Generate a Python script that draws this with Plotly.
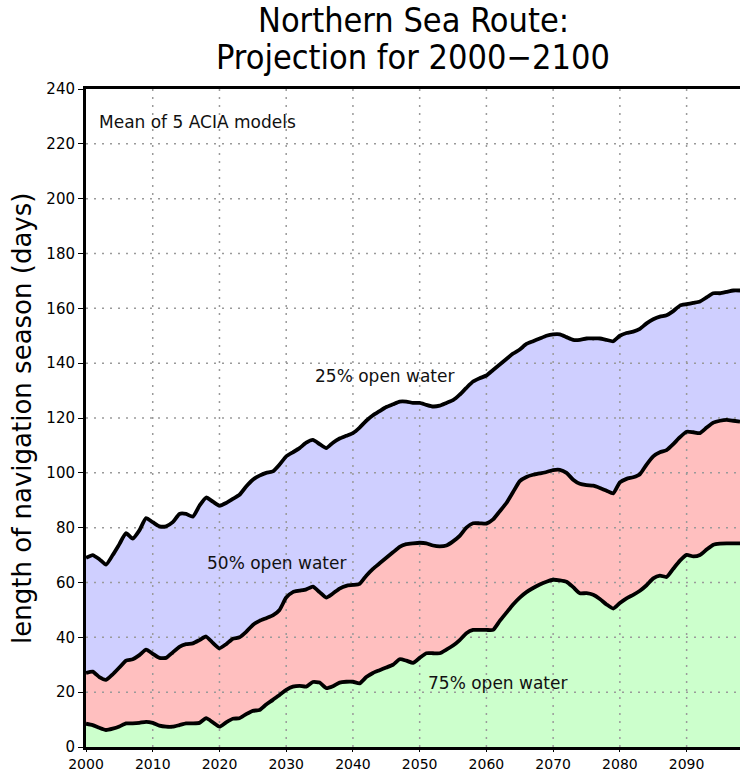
import plotly.graph_objects as go

years = list(range(2000, 2099))

open25 = [69, 70, 68.5, 66.5, 70, 74, 78, 76, 79, 83.5,
          82, 80.5, 80.5, 82, 85, 85, 84, 88, 91, 89.5,
          88, 89, 90.5, 92, 95, 97.5, 99, 100, 100.5, 103,
          106, 107.5, 109, 111, 112, 110.5, 109, 111, 112.5, 113.5,
          114.5, 116.5, 119, 121, 122.5, 124, 125, 126, 126, 125.5,
          125.5, 124.8, 124.2, 124.5, 125.5, 126.5, 128.5, 131, 133.3, 134.5,
          135.5, 137.5, 139.5, 141.5, 143.5, 145, 147, 148, 149, 150,
          150.5, 150.5, 149.5, 148.5, 148.5, 149, 149, 149, 148.5, 148,
          150, 151, 151.5, 152.5, 154.5, 156, 157, 157.5, 159, 161,
          161.5, 162, 162.5, 164, 165.5, 165.5, 166, 166.5, 166.5]

open50 = [27, 27.5, 25.5, 24.5, 26.5, 29, 31.5, 32, 33.5, 35.5,
          34, 32.5, 32.5, 34.5, 36.5, 37.5, 37.8, 39, 40.3, 38,
          36, 37.5, 39.5, 40, 42, 44.5, 46, 47, 48, 50,
          54.5, 56.5, 57, 57.5, 58.5, 56.5, 54.5, 56, 57.8, 58.8,
          59.1, 59.5, 62.5, 65, 67, 69, 71, 73, 74, 74.3,
          74.5, 74.3, 73.5, 73.2, 73.5, 75, 77, 80, 81.6, 81.6,
          81.5, 83, 86, 89, 93, 97, 98.5, 99.3, 99.8, 100.3,
          101, 101.1, 100, 97.5, 96, 95.5, 95.3, 94.5, 93.5, 92.5,
          96.5, 97.8, 98.4, 99.5, 103, 106, 107.5, 108.3, 110.5, 113,
          115, 114.8, 114.5, 116.5, 118.3, 119, 119.3, 119, 118.7]

open75 = [8.5, 8, 7, 6.2, 6.7, 7.5, 8.6, 8.6, 8.8, 9.2,
          8.8, 7.8, 7.4, 7.4, 8, 8.6, 8.6, 8.8, 10.5, 9,
          7.4, 9, 10.3, 10.5, 12, 13.2, 13.5, 15.5, 17.2, 19,
          20.8, 22, 22.3, 22, 23.7, 23.5, 21.5, 22.2, 23.5, 23.8,
          23.8, 23.2, 25.5, 27, 28, 29, 30, 32, 31.5, 30.7,
          32.5, 34.2, 34.2, 34.2, 35.5, 37, 39, 41.5, 42.7, 42.7,
          42.7, 42.7, 46, 49, 52, 54.5, 56.5, 58, 59.3, 60.3,
          61, 60.8, 60.3, 58.3, 56.1, 56.1, 55.5, 54, 52, 50.5,
          52.5, 54.2, 55.5, 57, 59, 61.5, 62.5, 62, 65, 68,
          70.1, 69.5, 70, 72, 73.8, 74.2, 74.3, 74.3, 74.3]

x_ticks = [2000, 2010, 2020, 2030, 2040, 2050, 2060, 2070, 2080, 2090]
y_ticks = [0, 20, 40, 60, 80, 100, 120, 140, 160, 180, 200, 220, 240]
x_range = [2000, 2098]
y_range = [0, 240]

title_lines = ["Northern Sea Route:", "Projection for 2000\u22122100"]
labels = ["Mean of 5 ACIA models", "25% open water", "50% open water", "75% open water"]

fig = go.Figure()

# fills
fig.add_trace(go.Scatter(x=years, y=open75, mode="lines", line=dict(width=0),
                         fill="tozeroy", fillcolor="#CCFFCC", showlegend=False, hoverinfo="skip"))
fig.add_trace(go.Scatter(x=years, y=open50, mode="lines", line=dict(width=0),
                         fill="tonexty", fillcolor="#FFBFBF", showlegend=False, hoverinfo="skip"))
fig.add_trace(go.Scatter(x=years, y=open25, mode="lines", line=dict(width=0),
                         fill="tonexty", fillcolor="#CFCFFF", showlegend=False, hoverinfo="skip"))

# dotted grid drawn above the fills
gx, gy = [], []
for t in x_ticks[1:]:
    gx += [t, t, None]
    gy += [y_range[0], y_range[1], None]
for t in y_ticks[1:-1]:
    gx += [x_range[0], x_range[1], None]
    gy += [t, t, None]
fig.add_trace(go.Scatter(x=gx, y=gy, mode="lines",
                         line=dict(color="#9a9a9a", width=1.5, dash="2px,6px"),
                         showlegend=False, hoverinfo="skip"))

# black boundary lines
for s in (open75, open50, open25):
    fig.add_trace(go.Scatter(x=years, y=s, mode="lines",
                             line=dict(color="black", width=3.8, shape="spline", smoothing=0.5),
                             showlegend=False, hoverinfo="skip"))

txt_font = dict(family="DejaVu Sans", size=17, color="#111111")
fig.add_annotation(x=2001.6, y=228, xref="x", yref="y", text=labels[0],
                   showarrow=False, xanchor="left", font=txt_font)
fig.add_annotation(x=2044.8, y=135.5, xref="x", yref="y", text=labels[1],
                   showarrow=False, font=txt_font)
fig.add_annotation(x=2028.6, y=67, xref="x", yref="y", text=labels[2],
                   showarrow=False, font=txt_font)
fig.add_annotation(x=2061.6, y=23.2, xref="x", yref="y", text=labels[3],
                   showarrow=False, font=txt_font)

# title (two lines)
title_font = dict(family="DejaVu Sans Condensed", size=34, color="black")
fig.add_annotation(x=0.5, y=1.105, xref="paper", yref="paper", text=title_lines[0],
                   showarrow=False, xanchor="center", yanchor="middle", font=title_font)
fig.add_annotation(x=0.5, y=1.049, xref="paper", yref="paper", text=title_lines[1],
                   showarrow=False, xanchor="center", yanchor="middle", font=title_font)

fig.add_annotation(x=-0.098, y=0.5, xref="paper", yref="paper",
                   text="length of navigation season (days)", textangle=-90,
                   showarrow=False, xanchor="center", yanchor="middle",
                   font=dict(family="DejaVu Sans", size=26, color="black"))

fig.update_layout(
    width=740, height=774,
    margin=dict(l=86, r=0, t=89, b=27, autoexpand=False),
    paper_bgcolor="white", plot_bgcolor="white",
    xaxis=dict(range=x_range, tickvals=x_ticks, ticktext=[str(t) for t in x_ticks],
               showgrid=False, zeroline=False, showline=True, linecolor="black",
               linewidth=3, mirror=True, ticks="outside", ticklen=2, tickcolor="black",
               automargin=False,
               tickfont=dict(family="DejaVu Sans", size=14, color="black")),
    yaxis=dict(range=y_range, tickvals=y_ticks, ticktext=[str(t) for t in y_ticks],
               showgrid=False, zeroline=False, showline=True, linecolor="black",
               linewidth=3, ticks="outside", ticklen=5, tickcolor="black",
               automargin=False,
               tickfont=dict(family="DejaVu Sans", size=15, color="black")),
)

fig.write_html("out.html",
               config={"displayModeBar": False},
               post_script="document.body.style.margin='0';document.body.style.overflow='hidden';")
